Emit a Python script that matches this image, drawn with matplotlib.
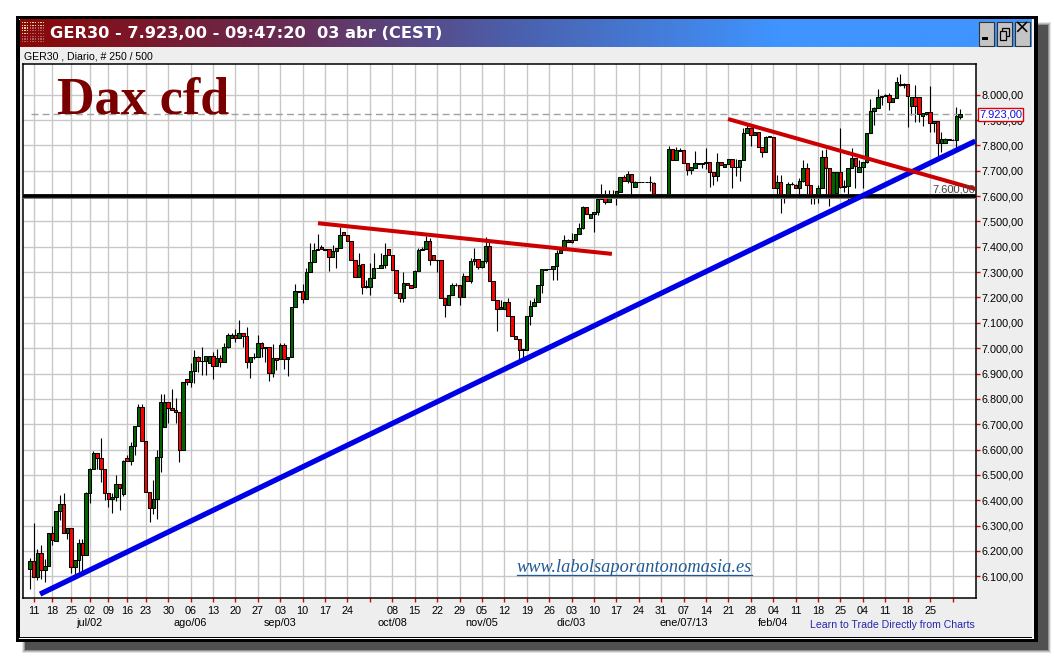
import numpy as np
import matplotlib
matplotlib.use('Agg')
import matplotlib.pyplot as plt
from matplotlib.colors import LinearSegmentedColormap
from matplotlib.patches import Rectangle

# --- daily candles ---
opens = [
    6128, 6159, 6099, 6191, 6125, 6141, 6270, 6241, 6357, 6384,
    6270, 6290, 6136, 6163, 6230, 6183, 6428, 6522, 6585, 6566,
    6522, 6428, 6404, 6412, 6463, 6426, 6565, 6555, 6613, 6692,
    6767, 6633, 6431, 6369, 6407, 6570, 6688, 6787, 6763, 6757,
    6747, 6598, 6877, 6865, 6909, 6964, 6948, 6948, 6940, 6968,
    6928, 6960, 6944, 7005, 7039, 7052, 7039, 7061, 7047, 6944,
    6964, 6964, 7019, 6999, 7003, 6901, 6960, 6956, 7011, 6956,
    6964, 7161, 7224, 7224, 7193, 7299, 7339, 7386, 7401, 7390,
    7390, 7358, 7384, 7394, 7457, 7445, 7422, 7348, 7282, 7331,
    7240, 7240, 7275, 7315, 7318, 7327, 7390, 7367, 7307, 7219,
    7197, 7256, 7248, 7242, 7303, 7386, 7390, 7422, 7367, 7348,
    7348, 7197, 7169, 7211, 7248, 7248, 7201, 7283, 7265, 7343,
    7350, 7319, 7343, 7403, 7264, 7190, 7155, 7155, 7181, 7128,
    7047, 7035, 6992, 6992, 7127, 7168, 7184, 7248, 7308, 7311,
    7311, 7323, 7375, 7387, 7420, 7425, 7427, 7449, 7473, 7557,
    7512, 7528, 7536, 7589, 7595, 7578, 7595, 7595, 7618, 7674,
    7658, 7686, 7637, 7656, 7655, 7655, 7655, 7650, 7608, 7608,
    7608, 7608, 7785, 7742, 7782, 7782, 7732, 7703, 7709, 7729,
    7725, 7729, 7733, 7696, 7680, 7733, 7713, 7725, 7748, 7713,
    7716, 7742, 7850, 7867, 7840, 7854, 7792, 7775, 7834, 7834,
    7630, 7654, 7595, 7604, 7646, 7644, 7630, 7658, 7710, 7644,
    7595, 7595, 7630, 7756, 7710, 7608, 7611, 7696, 7637, 7641,
    7712, 7749, 7696, 7716, 7733, 7847, 7937, 7946, 7992, 7996,
    7999, 7972, 7985, 8041, 8040, 8041, 7955, 7992, 7992, 7916,
    7923, 7930, 7887, 7897, 7811, 7811, 7824, 7823, 7823, 7912,
]
closes = [
    6159, 6099, 6191, 6125, 6141, 6270, 6242, 6357, 6384, 6270,
    6290, 6136, 6163, 6230, 6183, 6428, 6522, 6585, 6566, 6522,
    6428, 6404, 6412, 6463, 6447, 6555, 6555, 6613, 6692, 6767,
    6633, 6431, 6369, 6407, 6570, 6787, 6787, 6763, 6757, 6747,
    6598, 6865, 6865, 6909, 6964, 6948, 6950, 6968, 6968, 6928,
    6960, 6944, 7005, 7052, 7052, 7039, 7061, 7047, 6944, 6964,
    6966, 7019, 6999, 7005, 6901, 6960, 6953, 7011, 6956, 6964,
    7161, 7224, 7221, 7193, 7299, 7339, 7386, 7390, 7390, 7388,
    7358, 7384, 7394, 7445, 7445, 7422, 7348, 7282, 7329, 7240,
    7244, 7275, 7315, 7318, 7327, 7367, 7367, 7307, 7219, 7197,
    7256, 7248, 7239, 7303, 7386, 7390, 7422, 7348, 7348, 7347,
    7197, 7169, 7211, 7248, 7250, 7201, 7283, 7265, 7343, 7350,
    7319, 7345, 7403, 7264, 7190, 7155, 7164, 7181, 7128, 7047,
    7035, 6992, 6997, 7127, 7168, 7184, 7248, 7311, 7313, 7314,
    7323, 7375, 7387, 7427, 7427, 7420, 7449, 7473, 7557, 7528,
    7528, 7536, 7589, 7595, 7578, 7595, 7598, 7620, 7674, 7658,
    7686, 7656, 7656, 7655, 7655, 7655, 7654, 7608, 7608, 7608,
    7608, 7785, 7742, 7782, 7779, 7732, 7703, 7713, 7729, 7725,
    7729, 7733, 7696, 7680, 7733, 7722, 7725, 7748, 7713, 7716,
    7742, 7850, 7867, 7840, 7854, 7792, 7775, 7834, 7837, 7630,
    7654, 7595, 7591, 7646, 7648, 7630, 7658, 7710, 7644, 7595,
    7594, 7630, 7756, 7710, 7604, 7696, 7696, 7637, 7640, 7712,
    7749, 7720, 7716, 7733, 7847, 7937, 7946, 7992, 7996, 7999,
    7972, 7985, 8051, 8040, 8041, 7995, 7992, 7955, 7923, 7926,
    7930, 7887, 7896, 7811, 7824, 7824, 7823, 7823, 7916, 7923,
]
highs = [
    6171, 6309, 6208, 6224, 6169, 6270, 6300, 6357, 6421, 6428,
    6290, 6290, 6163, 6246, 6246, 6431, 6526, 6593, 6585, 6644,
    6522, 6428, 6428, 6500, 6463, 6559, 6579, 6630, 6692, 6778,
    6780, 6633, 6431, 6480, 6599, 6820, 6820, 6787, 6839, 6803,
    6747, 6865, 6877, 6940, 6993, 6969, 7006, 6968, 6968, 6986,
    6995, 6973, 7019, 7059, 7059, 7074, 7111, 7061, 7082, 6964,
    6980, 7052, 7026, 7005, 7003, 7015, 6960, 7019, 7019, 6964,
    7161, 7253, 7224, 7253, 7315, 7414, 7414, 7449, 7407, 7392,
    7390, 7407, 7394, 7477, 7460, 7445, 7422, 7348, 7375, 7331,
    7269, 7335, 7375, 7318, 7375, 7414, 7390, 7367, 7307, 7219,
    7302, 7256, 7248, 7308, 7394, 7398, 7443, 7434, 7367, 7349,
    7348, 7197, 7211, 7256, 7256, 7248, 7295, 7283, 7354, 7394,
    7350, 7345, 7440, 7427, 7264, 7190, 7190, 7181, 7197, 7128,
    7047, 7035, 6997, 7127, 7190, 7197, 7250, 7311, 7313, 7314,
    7323, 7387, 7387, 7447, 7430, 7455, 7449, 7493, 7559, 7557,
    7528, 7536, 7589, 7648, 7624, 7624, 7624, 7620, 7677, 7683,
    7699, 7686, 7659, 7657, 7656, 7656, 7681, 7654, 7609, 7609,
    7609, 7798, 7785, 7792, 7788, 7782, 7732, 7716, 7779, 7732,
    7729, 7788, 7733, 7696, 7771, 7733, 7725, 7748, 7748, 7748,
    7742, 7867, 7880, 7874, 7854, 7854, 7792, 7837, 7837, 7834,
    7683, 7683, 7595, 7656, 7656, 7648, 7670, 7742, 7732, 7644,
    7596, 7644, 7782, 7785, 7710, 7696, 7696, 7867, 7663, 7712,
    7788, 7749, 7742, 7733, 7847, 7982, 7953, 8021, 7996, 8003,
    8008, 7985, 8069, 8081, 8045, 8041, 7992, 8038, 7992, 7926,
    7933, 8034, 7896, 7897, 7854, 7828, 7825, 7825, 7953, 7942,
]
lows = [
    6050, 6096, 6086, 6091, 6077, 6141, 6224, 6241, 6322, 6270,
    6249, 6112, 6105, 6119, 6115, 6183, 6391, 6522, 6522, 6474,
    6401, 6375, 6349, 6399, 6362, 6417, 6555, 6541, 6578, 6692,
    6633, 6431, 6316, 6346, 6325, 6513, 6688, 6704, 6757, 6704,
    6553, 6598, 6855, 6845, 6864, 6907, 6893, 6893, 6940, 6880,
    6928, 6924, 6944, 7002, 7039, 7026, 7039, 7006, 6920, 6884,
    6957, 6964, 6964, 6947, 6872, 6888, 6914, 6956, 6918, 6891,
    6964, 7161, 7220, 7177, 7193, 7299, 7339, 7386, 7390, 7386,
    7306, 7358, 7315, 7394, 7445, 7422, 7348, 7282, 7282, 7214,
    7236, 7210, 7275, 7315, 7315, 7315, 7367, 7307, 7219, 7182,
    7184, 7248, 7239, 7242, 7303, 7386, 7390, 7329, 7348, 7302,
    7197, 7122, 7169, 7211, 7246, 7170, 7201, 7265, 7256, 7329,
    7311, 7315, 7335, 7264, 7190, 7066, 7155, 7155, 7128, 7047,
    7035, 6954, 6959, 6992, 7092, 7168, 7184, 7217, 7308, 7311,
    7269, 7269, 7375, 7387, 7418, 7415, 7427, 7449, 7469, 7528,
    7512, 7460, 7526, 7589, 7568, 7578, 7595, 7565, 7618, 7658,
    7653, 7595, 7637, 7654, 7654, 7654, 7621, 7608, 7607, 7607,
    7607, 7608, 7742, 7742, 7779, 7732, 7683, 7687, 7709, 7725,
    7709, 7705, 7637, 7643, 7659, 7722, 7713, 7725, 7630, 7680,
    7660, 7742, 7850, 7798, 7840, 7792, 7755, 7775, 7834, 7630,
    7591, 7535, 7571, 7604, 7642, 7630, 7591, 7655, 7598, 7569,
    7569, 7571, 7630, 7595, 7561, 7608, 7598, 7630, 7617, 7580,
    7712, 7630, 7696, 7630, 7729, 7847, 7880, 7946, 7959, 7996,
    7939, 7972, 7985, 8034, 8025, 7874, 7920, 7894, 7894, 7876,
    7920, 7854, 7854, 7749, 7775, 7808, 7822, 7822, 7788, 7906,
]

# --- axis labels ---
day_bars = [1, 6, 11, 16, 21, 26, 31, 37, 43, 49, 55, 61, 67, 73, 79, 85, 91, 97, 103, 109, 115,
            121, 127, 133, 139, 145, 151, 157, 163, 169, 175, 181, 187, 193, 199, 205, 211, 217,
            223, 229, 235, 241, 247]
day_labels = ['11', '18', '25', '02', '09', '16', '23', '30', '06', '13', '20', '27', '03', '10',
              '17', '24', '', '08', '15', '22', '29', '05', '12', '19', '26', '03', '10', '17', '24',
              '31', '07', '14', '21', '28', '04', '11', '18', '25', '04', '11', '18', '25', '']
month_bars = [16, 43, 67, 97, 121, 145, 175, 199]
month_labels = ['jul/02', 'ago/06', 'sep/03', 'oct/08', 'nov/05', 'dic/03', 'ene/07/13', 'feb/04']
price_ticks = list(range(6100, 8001, 100))
last_price = 7923
support_level = 7600

# --- trend lines (bar, price) ---
blue_bars, blue_prices = [2.7, 253.1], [6030, 7817]
red1_bars, red1_prices = [77.1, 155.8], [7493, 7372]
red2_bars, red2_prices = [186.9, 253.1], [7904, 7628]


def euro(v):
    return f'{v:,.2f}'.replace(',', 'X').replace('.', ',').replace('X', '.')


plt.rcParams['font.family'] = ['Liberation Sans', 'DejaVu Sans']
fig = plt.figure(figsize=(10.54, 6.57), dpi=100, facecolor='white')

# --- window frame, in pixels ---
bg = fig.add_axes([0, 0, 1, 1])
bg.set_xlim(0, 1054)
bg.set_ylim(657, 0)
bg.axis('off')

# soft shadow
for grow, alpha in [(3, 0.15), (2, 0.25), (1, 0.4), (0, 1.0)]:
    bg.add_patch(Rectangle((25 - grow, 25 - grow), 1023 + 2 * grow, 625 + 2 * grow,
                           color='#505050', alpha=alpha, lw=0))
bg.add_patch(Rectangle((15.5, 15.5), 1022.5, 626.5, color='black', lw=0))
bg.add_patch(Rectangle((18.5, 18.5), 1015.5, 620, color='white', lw=0))
bg.add_patch(Rectangle((19.3, 19.5), 1012.7, 618, color='black', lw=0))
bg.add_patch(Rectangle((20, 20), 1012, 616.7, color='#eeeeee', lw=0))
bg.add_patch(Rectangle((1032, 19), 2, 619, color='#f4f4f4', lw=0))

# title bar gradient
title_cmap = LinearSegmentedColormap.from_list('title', ['#8a0808', '#6a2a50', '#4a62b0', '#3f94ff', '#3f94ff'])
bg.imshow(np.linspace(0, 1, 512).reshape(1, -1), cmap=title_cmap, aspect='auto',
          extent=(20, 1032, 47.5, 20), zorder=2)
bg.set_xlim(0, 1054)
bg.set_ylim(657, 0)

# little dotted icon in the title bar
for row in range(8):
    for col in range(9):
        shade = '#e8d8a0' if (row < 5 and col < 3) or row < 2 else '#b06060'
        bg.add_patch(Rectangle((21.5 + col * 2.7, 22 + row * 2.7), 1.3, 1.3, color=shade, lw=0, zorder=3))

bg.text(50.5, 33.5, 'GER30 - 7.923,00 - 09:47:20  03 abr (CEST)', color='white', fontsize=11.7,
        fontweight='bold', family='DejaVu Sans', va='center', ha='left', zorder=3)

# window buttons
for left in [978.5, 996.5, 1014.5]:
    bg.add_patch(Rectangle((left, 21.5), 15.5, 24, facecolor='#c4c4c4', edgecolor='#333333', lw=0.8, zorder=3))
bg.add_patch(Rectangle((981.5, 37), 6, 3.4, color='black', zorder=4, lw=0))
bg.add_patch(Rectangle((1002, 28), 6.5, 8, facecolor='none', edgecolor='black', lw=0.9, zorder=4))
bg.add_patch(Rectangle((999.5, 31), 6, 9, facecolor='#c4c4c4', edgecolor='black', lw=0.9, zorder=4))
bg.text(1022, 28, '\u00d7', fontsize=14, color='black', ha='center', va='center', zorder=4, family='DejaVu Sans')

bg.text(24, 56.5, 'GER30 , Diario, # 250 / 500', fontsize=7.6, color='black', va='center', ha='left', zorder=3)
bg.text(975, 625.5, 'Learn to Trade Directly from Charts', fontsize=7.6, color='#2626b0',
        ha='right', va='center', zorder=3)

# --- price chart ---
ax = fig.add_axes([23 / 1054, 1 - 598 / 657, (975.5 - 23) / 1054, (598 - 63.5) / 657])
ax.set_facecolor('white')
ax.set_xlim(-1.87, 253.15)
ax.set_ylim(6014.6, 8123)
ax.yaxis.tick_right()
ax.set_yticks(price_ticks)
ax.set_yticklabels([euro(p) for p in price_ticks])
ax.set_xticks(day_bars)
ax.set_xticklabels(day_labels)
ax.tick_params(axis='both', color='#e00000', length=3, width=1, labelsize=7.8, pad=1)
ax.tick_params(axis='x', pad=2.5)
ax.grid(True, color='#c8c8c8', lw=1)
ax.set_axisbelow(True)
for side in ax.spines.values():
    side.set_linewidth(1.1)

bars = np.arange(len(opens))
o, c = np.array(opens), np.array(closes)
up = c >= o
ax.vlines(bars, lows, highs, color='black', lw=0.8, zorder=2)
ax.bar(bars[up], (c - o)[up], bottom=o[up], width=0.92, color='#006400', edgecolor='black', lw=0.75, zorder=3)
ax.bar(bars[~up], (c - o)[~up], bottom=o[~up], width=0.92, color='#ff0000', edgecolor='black', lw=0.75, zorder=3)

ax.axhline(last_price, xmin=0.008, color='#a0a0a0', lw=1, ls=(0, (5, 3)), zorder=2)
ax.axhline(support_level, color='#777777', lw=3.5, zorder=4)
ax.axhline(support_level, color='black', lw=2.6, zorder=4)
ax.plot(blue_bars, blue_prices, color='#0000e6', lw=3.8, solid_capstyle='butt', zorder=5)
ax.plot(red1_bars, red1_prices, color='#cc0000', lw=2.9, solid_capstyle='butt', zorder=5)
ax.plot(red2_bars, red2_prices, color='#cc0000', lw=2.9, solid_capstyle='butt', zorder=5)

ax.annotate(euro(support_level), xy=(1, support_level), xycoords=('axes fraction', 'data'),
            xytext=(0, 1), textcoords='offset points', ha='right', va='bottom',
            fontsize=8, color='#444444', zorder=6)
ax.annotate(euro(last_price), xy=(1, last_price), xycoords=('axes fraction', 'data'),
            xytext=(2.5, 0), textcoords='offset points', ha='left', va='center', fontsize=8,
            color='#1010e0', zorder=7, annotation_clip=False,
            bbox=dict(boxstyle='square,pad=0.12', fc='white', ec='#e00000', lw=1))

for pos, name in zip(month_bars, month_labels):
    ax.annotate(name, xy=(pos, 0), xycoords=('data', 'axes fraction'), xytext=(0, -20),
                textcoords='offset points', ha='center', va='baseline', fontsize=7.8, color='black',
                annotation_clip=False)

ax.text(57, 113.5, 'Dax cfd', fontsize=37.5, fontweight='bold', family='Liberation Serif', color='#7a0000',
        transform=bg.transData, ha='left', va='baseline', zorder=6)
ax.text(517, 567, 'www.labolsaporantonomasia.es', fontsize=13.2, style='italic',
        family='Liberation Serif', color='#1f5a94', transform=bg.transData,
        ha='left', va='center', zorder=6)
ax.plot([517, 752], [574.5, 574.5], color='#1f5a94', lw=0.9, transform=bg.transData, zorder=6)

fig.savefig('out.png', dpi=100)
